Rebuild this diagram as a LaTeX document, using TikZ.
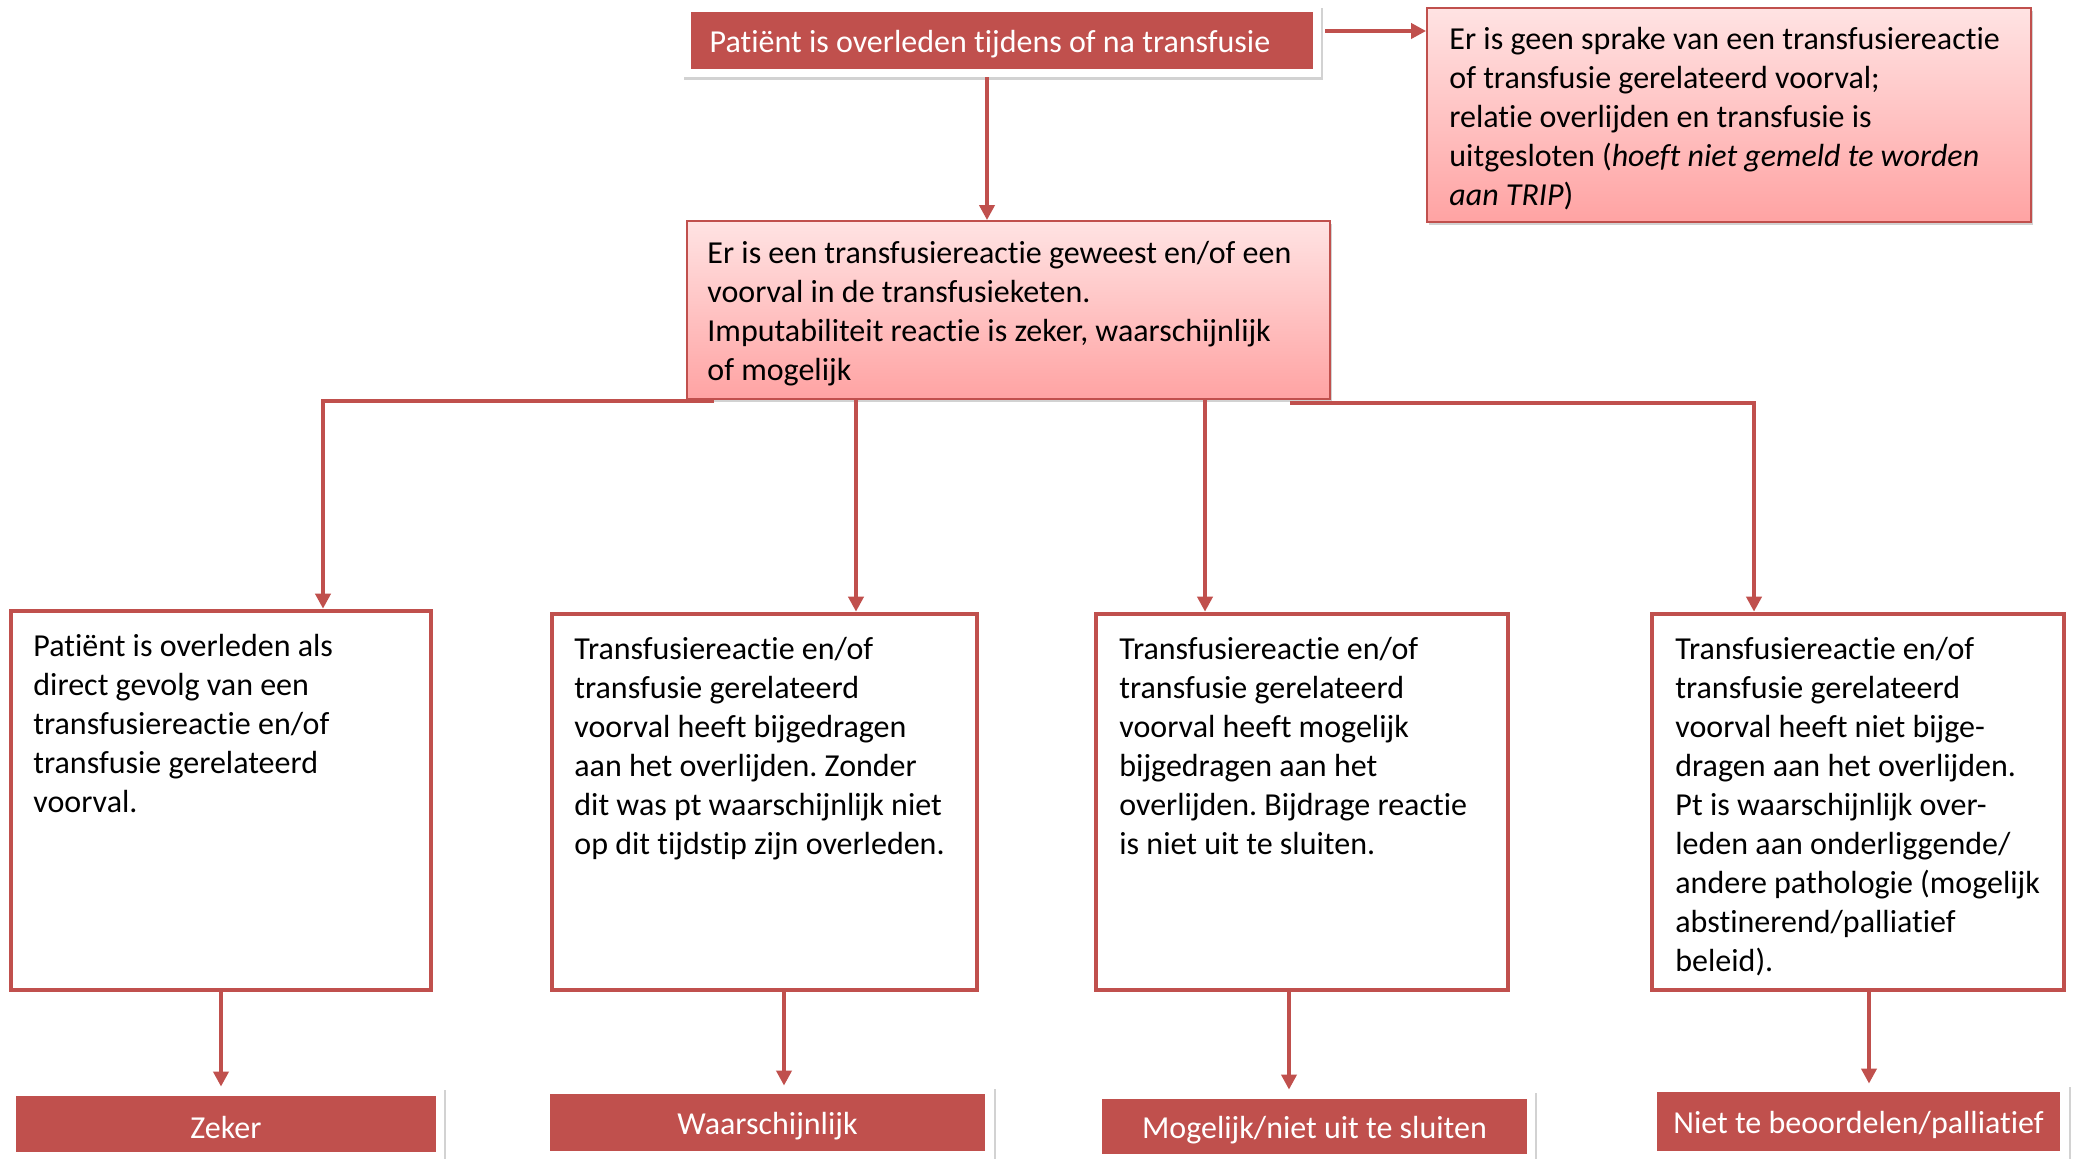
\documentclass[tikz,border=0pt]{standalone}
\usepackage{fontspec}
\setmainfont{Carlito}[Ligatures=NoCommon]
\usetikzlibrary{arrows.meta,fit,shadows}
\definecolor{accred}{HTML}{C0504D}
\definecolor{pinktop}{HTML}{FFE3E3}
\definecolor{pinkbot}{HTML}{FFA3A3}
\frenchspacing
\begin{document}
\begin{tikzpicture}[x=0.5pt,y=-0.5pt,
  frame/.style={fill=white, inner sep=0pt, drop shadow={shadow xshift=1pt, shadow yshift=-1.5pt, opacity=0.25, fill=black!70}},
  redbox/.style={fill=accred, inner sep=0pt},
  redtxt/.style={text=white, inner sep=0pt, yshift=-1.6pt, font=\fontsize{16}{19}\selectfont},
  pinkbox/.style={top color=pinktop, bottom color=pinkbot, draw=accred, line width=0.9pt, inner sep=0pt, drop shadow={shadow xshift=1pt, shadow yshift=-1.5pt, opacity=0.25, fill=black!70}},
  wbox/.style={draw=accred, line width=2.3pt, fill=white, inner sep=0pt},
  txt/.style={anchor=north west, align=left, inner sep=0pt, font=\fontsize{16}{19.5}\selectfont},
  arr/.style={draw=accred, line width=2pt, -{Triangle[width=7.5pt,length=7.5pt]}}
]
\useasboundingbox (0,0) rectangle (2084,1159);

% top
\node[frame, fit={(682,5) (1321,77)}] (tf) {};
\node[redbox, fit={(691,12) (1313,69)}] (top) {};
\node[redtxt] (topt) at ([xshift=-6pt]top.center) {Patiënt is overleden tijdens of na transfusie};

% right
\node[pinkbox, fit={(1427,8) (2031,222)}] (rb) {};
\node[txt] (rbt) at (1449,27) {Er is geen sprake van een transfusiereactie\\of transfusie gerelateerd voorval;\\relatie overlijden en transfusie is\\uitgesloten (\textit{hoeft niet gemeld te worden}\\\textit{aan TRIP})};

% middle
\node[pinkbox, fit={(687,221) (1330,399)}] (mb) {};
\node[txt] (mbt) at (707,241) {Er is een transfusiereactie geweest en/of een\\voorval in de transfusieketen.\\Imputabiliteit reactie is zeker, waarschijnlijk\\of mogelijk};

% bottom boxes
\node[wbox, fit={(11,611) (431,990)}] (b1) {};
\node[txt] (b1t) at (33,634) {Patiënt is overleden als\\direct gevolg van een\\transfusiereactie en/of\\transfusie gerelateerd\\voorval.};
\node[wbox, fit={(552,614) (977,990)}] (b2) {};
\node[txt] (b2t) at (574,637) {Transfusiereactie en/of\\transfusie gerelateerd\\voorval heeft bijgedragen\\aan het overlijden. Zonder\\dit was pt waarschijnlijk niet\\op dit tijdstip zijn overleden.};
\node[wbox, fit={(1096,614) (1508,990)}] (b3) {};
\node[txt] (b3t) at (1119,637) {Transfusiereactie en/of\\transfusie gerelateerd\\voorval heeft mogelijk\\bijgedragen aan het\\overlijden. Bijdrage reactie\\is niet uit te sluiten.};
\node[wbox, fit={(1652,614) (2064,990)}] (b4) {};
\node[txt] (b4t) at (1675,637) {Transfusiereactie en/of\\transfusie gerelateerd\\voorval heeft niet bijge-\\dragen aan het overlijden.\\Pt is waarschijnlijk over-\\leden aan onderliggende/\\andere pathologie (mogelijk\\abstinerend/palliatief\\beleid).};

% result boxes
\node[frame, fit={(7,1087) (444,1165)}] (f1) {};
\node[redbox, fit={(16,1096) (436,1152)}] (r1) {};
\node[redtxt] (r1t) at (r1.center) {Zeker};
\node[frame, fit={(541,1086) (994,1165)}] (f2) {};
\node[redbox, fit={(550,1094) (985,1151)}] (r2) {};
\node[redtxt] (r2t) at (r2.center) {Waarschijnlijk};
\node[frame, fit={(1092,1090) (1535,1165)}] (f3) {};
\node[redbox, fit={(1102,1099) (1527,1154)}] (r3) {};
\node[redtxt] (r3t) at (r3.center) {Mogelijk/niet uit te sluiten};
\node[frame, fit={(1648,1084) (2069,1165)}] (f4) {};
\node[redbox, fit={(1657,1092) (2060,1151)}] (r4) {};
\node[redtxt] (r4t) at (r4.center) {Niet te beoordelen/palliatief};

% connectors
\coordinate (xa) at (987,0);
\draw[arr] (tf.south -| xa) -- (mb.north -| xa);
\coordinate (ya) at (1325,31);
\draw[arr] (ya) -- (ya -| rb.west);
\coordinate (L0) at (714,401);
\coordinate (x1) at (323,0);
\draw[arr] (L0) -| (x1 |- b1.north);
\coordinate (x2) at (856,0);
\draw[arr] (mb.south -| x2) -- (b2.north -| x2);
\coordinate (x3) at (1205,0);
\draw[arr] (mb.south -| x3) -- (b3.north -| x3);
\coordinate (R0) at (1290,403);
\coordinate (x4) at (1754,0);
\draw[arr] (R0) -| (x4 |- b4.north);

\coordinate (z1) at (221,0);
\draw[arr] (b1.south -| z1) -- (f1.north -| z1);
\coordinate (z2) at (784,0);
\draw[arr] (b2.south -| z2) -- (f2.north -| z2);
\coordinate (z3) at (1289,0);
\draw[arr] (b3.south -| z3) -- (f3.north -| z3);
\coordinate (z4) at (1869,0);
\draw[arr] (b4.south -| z4) -- (f4.north -| z4);
\end{tikzpicture}
\end{document}
